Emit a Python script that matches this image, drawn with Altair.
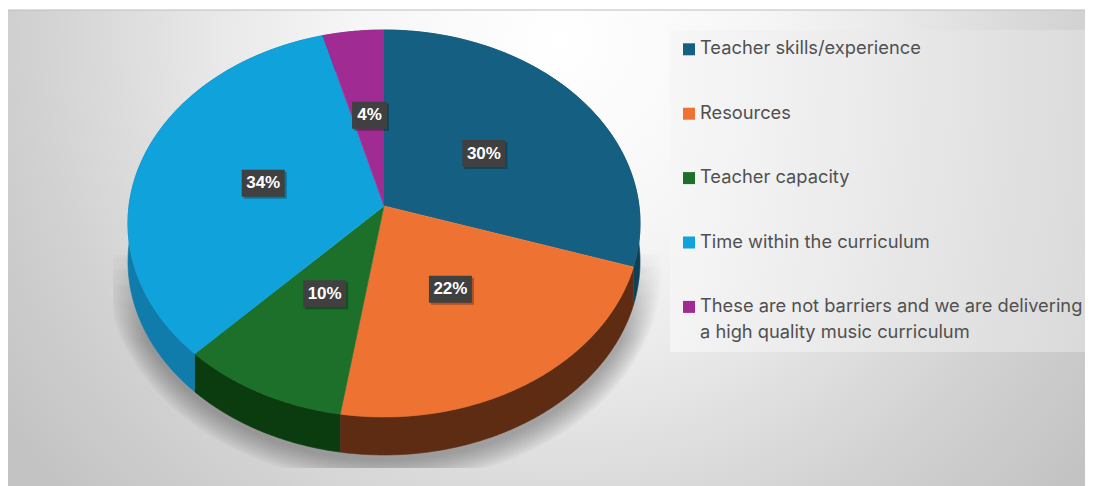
import numpy as np
import pandas as pd
import altair as alt

categories = ["Teacher skills/experience", "Resources", "Teacher capacity",
              "Time within the curriculum", "These are not barriers and we are delivering"]
legend_extra = "a high quality music curriculum"
shares = [30, 22.5, 9.7, 33.6, 4.2]
labels = ["30%", "22%", "10%", "34%", "4%"]
label_frac_x = [0.51, 0.46, 0.48, 0.50, 0.47]
label_frac_y = [0.49, 0.47, 0.47, 0.49, 0.52]
top_colors = ["#156082", "#ee7332", "#1c7029", "#10a2da", "#a02b93"]
wall_colors = ["#0e4158", "#5e2c13", "#0b3c10", "#0f7cab", "#6c1d63"]
text_color = "#505050"

W, H = 1077, 478
AX, AY = 384, 206
A, B, K, DEPTH = 255, 191.9, 0.0904, 38
xscale = alt.Scale(domain=[8, 8 + W], range=[0, W])
yscale = alt.Scale(domain=[8, 8 + H], range=[0, H])
xs = alt.X("x:Q", scale=xscale, axis=None)
ys = alt.Y("y:Q", scale=yscale, axis=None)


def rim(f, grow=0.0):
    t = 2 * np.pi * np.asarray(f)
    den = 1 + K * np.cos(t)
    return AX + (A + grow) * np.sin(t) / den, AY - (B + grow) * np.cos(t) / den


def poly(x, y, fill, opacity=1.0, stroke=True):
    df = pd.DataFrame({"x": x, "y": y, "i": np.arange(len(x))})
    kw = dict(fill=fill, fillOpacity=opacity, strokeWidth=0.6 if stroke else 0, clip=True)
    kw["stroke"] = fill if stroke else "transparent"
    return alt.Chart(df).mark_line(**kw).encode(x=xs, y=ys, order="i:Q")


edges = np.cumsum([0] + shares) / 100.0
layers = []
one = pd.DataFrame({"a": [0]})

# backdrop
layers.append(alt.Chart(one).mark_rect(
    clip=True,
    fill={"gradient": "radial", "x1": 0.51, "y1": 0.023, "r1": 0.0, "x2": 0.51, "y2": 0.023, "r2": 0.52,
          "stops": [{"offset": 0, "color": "#ffffff"}, {"offset": 0.3, "color": "#f6f6f6"},
                    {"offset": 0.5, "color": "#e9e9e9"}, {"offset": 0.65, "color": "#dcdcdc"},
                    {"offset": 0.8, "color": "#d0d0d0"}, {"offset": 1, "color": "#c3c3c3"}]}
).encode(x=alt.value(0), x2=alt.value(W), y=alt.value(2), y2=alt.value(1302)))
layers.append(alt.Chart(one).mark_rule(color="#bdbdbd", strokeWidth=1).encode(
    x=alt.value(0), x2=alt.value(W), y=alt.value(2)))
# legend panel
layers.append(alt.Chart(one).mark_rect(
    fill={"gradient": "linear", "x1": 0, "y1": 0, "x2": 1, "y2": 0,
          "stops": [{"offset": 0, "color": "#f6f6f6"}, {"offset": 1, "color": "#dedede"}]},
    opacity=0.8
).encode(x=alt.value(662), x2=alt.value(W), y=alt.value(22), y2=alt.value(344)))

# soft shadow
shadow_fill = {"gradient": "linear", "x1": 0, "y1": 0, "x2": 0, "y2": 1,
               "stops": [{"offset": 0.05, "color": "rgba(0,0,0,0)"}, {"offset": 0.45, "color": "rgba(0,0,0,1)"},
                         {"offset": 1, "color": "rgba(0,0,0,1)"}]}
ff = np.linspace(0, 1, 240)
for grow in range(22, 0, -2):
    sx, sy = rim(ff, grow)
    sy = np.clip(sy + DEPTH + 4, 236, 468)
    sx = np.clip(sx, 113, 670)
    layers.append(poly(sx, sy, shadow_fill, 0.032, stroke=False))

# side walls, then the top face
for a, b, c in zip(edges[:-1], edges[1:], wall_colors):
    f = np.linspace(a, b, 90)
    x, y = rim(f)
    layers.append(poly(np.r_[x, x[::-1]], np.r_[y, y[::-1] + DEPTH], c))
for a, b, c in zip(edges[:-1], edges[1:], top_colors):
    f = np.linspace(a, b, 90)
    x, y = rim(f)
    layers.append(poly(np.r_[AX, x], np.r_[AY, y], c))

# value labels
mid = (edges[:-1] + edges[1:]) / 2
rx, ry = rim(mid)
lx = AX + (rx - AX) * np.array(label_frac_x)
ly = AY + (ry - AY) * np.array(label_frac_y)
bw = np.array([43 if len(s) == 3 else 35 for s in labels])
lab = pd.DataFrame({"x": lx, "y": ly, "t": labels, "x0": lx - bw / 2, "x1": lx + bw / 2,
                    "y0": ly - 13.5, "y1": ly + 13.5,
                    "sx0": lx - bw / 2 + 2, "sx1": lx + bw / 2 + 2, "sy0": ly - 11.5, "sy1": ly + 15.5})
layers.append(alt.Chart(lab).mark_rect(fill="#000000", opacity=0.28).encode(
    x=alt.X("sx0:Q", scale=xscale, axis=None), x2="sx1:Q",
    y=alt.Y("sy0:Q", scale=yscale, axis=None), y2="sy1:Q"))
layers.append(alt.Chart(lab).mark_rect(fill="#404040").encode(
    x=alt.X("x0:Q", scale=xscale, axis=None), x2="x1:Q",
    y=alt.Y("y0:Q", scale=yscale, axis=None), y2="y1:Q"))
layers.append(alt.Chart(lab).mark_text(font="Liberation Sans", fontWeight="bold", fontSize=17,
                                       color="#ffffff", baseline="middle").encode(x=xs, y=ys, text="t:N"))

# key
ky = 49.3 + 64.4 * np.arange(len(categories))
key = pd.DataFrame({"x": 689.0, "y": ky, "c": top_colors})
layers.append(alt.Chart(key).mark_point(shape="square", size=144, filled=True, opacity=1).encode(
    x=xs, y=ys, color=alt.Color("c:N", scale=None)))
txt = pd.DataFrame({"x": 700.0, "y": list(ky) + [ky[-1] + 26], "t": categories + [legend_extra]})
layers.append(alt.Chart(txt).mark_text(font="Inter", fontSize=18.3, color=text_color, align="left",
                                       baseline="middle").encode(x=xs, y=ys, text="t:N"))

chart = alt.layer(*layers).properties(
    width=W, height=H, padding=0, autosize=alt.AutoSizeParams(type="none"),
    background="#ffffff"
).configure_view(stroke=None)

chart.save("out.html", embed_options={"renderer": "svg", "actions": False})
